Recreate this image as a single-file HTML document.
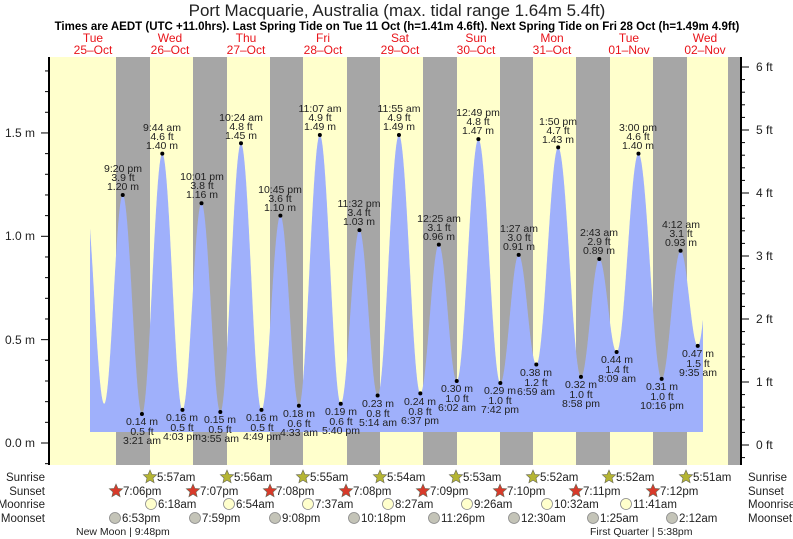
<!DOCTYPE html>
<html><head><meta charset="utf-8"><style>
html,body{margin:0;padding:0;background:#fff;}
svg{display:block;font-family:"Liberation Sans",sans-serif;}
.t{font-size:10.5px;fill:#222;text-anchor:middle;}
.ax{font-size:12px;fill:#222;}
.r{font-size:11.5px;fill:#222;}
.d{font-size:12px;fill:#e8141a;text-anchor:middle;}
</style></head><body>
<svg id="s" width="793" height="539" viewBox="0 0 793 539" xmlns="http://www.w3.org/2000/svg">
<rect x="49" y="57" width="692" height="408" fill="#ffffcc"/>
<g fill="#a6a6a6">
<rect x="116" y="57" width="34" height="408"/><rect x="193" y="57" width="34" height="408"/>
<rect x="270" y="57" width="33" height="408"/><rect x="347" y="57" width="33" height="408"/>
<rect x="423" y="57" width="34" height="408"/><rect x="500" y="57" width="33" height="408"/>
<rect x="576" y="57" width="34" height="408"/><rect x="653" y="57" width="34" height="408"/>
<rect x="728" y="57" width="13" height="408"/>
</g>
<path id="tide" fill="#9fb0fb" d=""/>
<g id="dots" fill="#000"></g>
<g id="ticks" stroke="#000" stroke-width="1"></g>
<line x1="49" y1="57" x2="49" y2="465" stroke="#000" stroke-width="2"/>
<line x1="741" y1="57" x2="741" y2="465" stroke="#000" stroke-width="2"/>
<text x="397" y="16" font-size="17" text-anchor="middle" fill="#222">Port Macquarie, Australia (max. tidal range 1.64m 5.4ft)</text>
<text x="397" y="30" font-size="11.5" font-weight="bold" text-anchor="middle" fill="#000">Times are AEDT (UTC +11.0hrs). Last Spring Tide on Tue 11 Oct (h=1.41m 4.6ft). Next Spring Tide on Fri 28 Oct (h=1.49m 4.9ft)</text>
<g class="d">
<text x="93" y="42">Tue</text><text x="93" y="54">25–Oct</text>
<text x="170" y="42">Wed</text><text x="170" y="54">26–Oct</text>
<text x="246" y="42">Thu</text><text x="246" y="54">27–Oct</text>
<text x="323" y="42">Fri</text><text x="323" y="54">28–Oct</text>
<text x="400" y="42">Sat</text><text x="400" y="54">29–Oct</text>
<text x="476" y="42">Sun</text><text x="476" y="54">30–Oct</text>
<text x="552" y="42">Mon</text><text x="552" y="54">31–Oct</text>
<text x="629" y="42">Tue</text><text x="629" y="54">01–Nov</text>
<text x="705" y="42">Wed</text><text x="705" y="54">02–Nov</text>
</g>
<g class="ax" text-anchor="end">
<text x="35" y="447">0.0 m</text><text x="35" y="344">0.5 m</text>
<text x="35" y="240">1.0 m</text><text x="35" y="137">1.5 m</text>
</g>
<g class="ax">
<text x="756" y="449">0 ft</text><text x="756" y="386">1 ft</text><text x="756" y="323">2 ft</text>
<text x="756" y="260">3 ft</text><text x="756" y="197">4 ft</text><text x="756" y="134">5 ft</text><text x="756" y="71">6 ft</text>
</g>
<g class="t">
<text x="123" y="172">9:20 pm</text><text x="123" y="181">3.9 ft</text><text x="123" y="190">1.20 m</text>
<text x="142" y="425">0.14 m</text><text x="142" y="435">0.5 ft</text><text x="142" y="444">3:21 am</text>
<text x="162" y="131">9:44 am</text><text x="162" y="140">4.6 ft</text><text x="162" y="149">1.40 m</text>
<text x="182" y="421">0.16 m</text><text x="182" y="431">0.5 ft</text><text x="182" y="440">4:03 pm</text>
<text x="202" y="180">10:01 pm</text><text x="202" y="189">3.8 ft</text><text x="202" y="198">1.16 m</text>
<text x="220" y="423">0.15 m</text><text x="220" y="433">0.5 ft</text><text x="220" y="442">3:55 am</text>
<text x="241" y="121">10:24 am</text><text x="241" y="130">4.8 ft</text><text x="241" y="139">1.45 m</text>
<text x="262" y="421">0.16 m</text><text x="262" y="431">0.5 ft</text><text x="262" y="440">4:49 pm</text>
<text x="280" y="193">10:45 pm</text><text x="280" y="202">3.6 ft</text><text x="280" y="211">1.10 m</text>
<text x="299" y="417">0.18 m</text><text x="299" y="427">0.6 ft</text><text x="299" y="436">4:33 am</text>
<text x="320" y="112">11:07 am</text><text x="320" y="121">4.9 ft</text><text x="320" y="130">1.49 m</text>
<text x="341" y="415">0.19 m</text><text x="341" y="425">0.6 ft</text><text x="341" y="434">5:40 pm</text>
<text x="359" y="207">11:32 pm</text><text x="359" y="216">3.4 ft</text><text x="359" y="225">1.03 m</text>
<text x="378" y="407">0.23 m</text><text x="378" y="417">0.8 ft</text><text x="378" y="426">5:14 am</text>
<text x="399" y="112">11:55 am</text><text x="399" y="121">4.9 ft</text><text x="399" y="130">1.49 m</text>
<text x="420" y="405">0.24 m</text><text x="420" y="415">0.8 ft</text><text x="420" y="424">6:37 pm</text>
<text x="439" y="222">12:25 am</text><text x="439" y="231">3.1 ft</text><text x="439" y="240">0.96 m</text>
<text x="457" y="392">0.30 m</text><text x="457" y="402">1.0 ft</text><text x="457" y="411">6:02 am</text>
<text x="478" y="116">12:49 pm</text><text x="478" y="125">4.8 ft</text><text x="478" y="134">1.47 m</text>
<text x="500" y="394">0.29 m</text><text x="500" y="404">1.0 ft</text><text x="500" y="413">7:42 pm</text>
<text x="519" y="232">1:27 am</text><text x="519" y="241">3.0 ft</text><text x="519" y="250">0.91 m</text>
<text x="536" y="376">0.38 m</text><text x="536" y="386">1.2 ft</text><text x="536" y="395">6:59 am</text>
<text x="558" y="125">1:50 pm</text><text x="558" y="134">4.7 ft</text><text x="558" y="143">1.43 m</text>
<text x="581" y="388">0.32 m</text><text x="581" y="398">1.0 ft</text><text x="581" y="407">8:58 pm</text>
<text x="599" y="236">2:43 am</text><text x="599" y="245">2.9 ft</text><text x="599" y="254">0.89 m</text>
<text x="617" y="363">0.44 m</text><text x="617" y="373">1.4 ft</text><text x="617" y="382">8:09 am</text>
<text x="638" y="131">3:00 pm</text><text x="638" y="140">4.6 ft</text><text x="638" y="149">1.40 m</text>
<text x="662" y="390">0.31 m</text><text x="662" y="400">1.0 ft</text><text x="662" y="409">10:16 pm</text>
<text x="681" y="228">4:12 am</text><text x="681" y="237">3.1 ft</text><text x="681" y="246">0.93 m</text>
<text x="698" y="357">0.47 m</text><text x="698" y="367">1.5 ft</text><text x="698" y="376">9:35 am</text>
</g>
<g class="r" text-anchor="end">
<text x="45" y="481">Sunrise</text><text x="45" y="495">Sunset</text>
<text x="45" y="508">Moonrise</text><text x="45" y="522">Moonset</text>
</g>
<g class="r">
<text x="748" y="481">Sunrise</text><text x="748" y="495">Sunset</text>
<text x="748" y="508">Moonrise</text><text x="748" y="522">Moonset</text>
</g>
<g id="astro"></g>
<g class="r" font-size="11">
<text x="157" y="481">5:57am</text><text x="234" y="481">5:56am</text><text x="310" y="481">5:55am</text><text x="387" y="481">5:54am</text>
<text x="463" y="481">5:53am</text><text x="540" y="481">5:52am</text><text x="616" y="481">5:52am</text><text x="693" y="481">5:51am</text>
<text x="123" y="495">7:06pm</text><text x="200" y="495">7:07pm</text><text x="276" y="495">7:08pm</text><text x="353" y="495">7:08pm</text>
<text x="430" y="495">7:09pm</text><text x="507" y="495">7:10pm</text><text x="583" y="495">7:11pm</text><text x="660" y="495">7:12pm</text>
<text x="158" y="508">6:18am</text><text x="236" y="508">6:54am</text><text x="315" y="508">7:37am</text><text x="395" y="508">8:27am</text>
<text x="474" y="508">9:26am</text><text x="554" y="508">10:32am</text><text x="633" y="508">11:41am</text>
<text x="122" y="522">6:53pm</text><text x="202" y="522">7:59pm</text><text x="282" y="522">9:08pm</text><text x="361" y="522">10:18pm</text>
<text x="441" y="522">11:26pm</text><text x="521" y="522">12:30am</text><text x="600" y="522">1:25am</text><text x="679" y="522">2:12am</text>
</g>
<text x="76" y="535" font-size="10.5" fill="#222">New Moon | 9:48pm</text>
<text x="590" y="535" font-size="10.5" fill="#222">First Quarter | 5:38pm</text>
</svg>
<script>
var ns="http://www.w3.org/2000/svg";
function X(t){return 54.7+3.19*t;}function Y(h){return 443-206.7*h;}
var E=[[9.2,1.25],[15.5,0.19],[21.33,1.20],[27.35,0.14],[33.73,1.40],[40.05,0.16],[46.02,1.16],[51.92,0.15],[58.4,1.45],[64.82,0.16],[70.75,1.10],[76.55,0.18],[83.12,1.49],[89.67,0.19],[95.53,1.03],[101.23,0.23],[107.92,1.49],[114.62,0.24],[120.42,0.96],[126.03,0.30],[132.82,1.47],[139.7,0.29],[145.45,0.91],[150.98,0.38],[157.83,1.43],[164.97,0.32],[170.72,0.89],[176.15,0.44],[183,1.40],[190.27,0.31],[196.2,0.93],[201.58,0.47],[208,1.3]];
function H(t){for(var i=0;i<E.length-1;i++){var a=E[i],b=E[i+1];if(t>=a[0]&&t<=b[0]){var f=(t-a[0])/(b[0]-a[0]);return a[1]+(b[1]-a[1])*(1-Math.cos(Math.PI*f))/2;}}return 0;}
var t0=(90-54.7)/3.19,t1=(703-54.7)/3.19,d="M90,432";
for(var t=t0;t<=t1;t+=0.05){d+="L"+X(t).toFixed(1)+","+Y(H(t)).toFixed(1);}
d+="L703,432Z";document.getElementById("tide").setAttribute("d",d);
var g=document.getElementById("dots");
for(var i=2;i<E.length-1;i++){var c=document.createElementNS(ns,"circle");c.setAttribute("cx",X(E[i][0]));c.setAttribute("cy",Y(E[i][1]));c.setAttribute("r",2);g.appendChild(c);}
var tk=document.getElementById("ticks");
function L(x1,y1,x2,y2){var l=document.createElementNS(ns,"line");l.setAttribute("x1",x1);l.setAttribute("y1",y1);l.setAttribute("x2",x2);l.setAttribute("y2",y2);tk.appendChild(l);}
for(var k=-1;k<=19;k++){var y=Y(k/10);if(y<57||y>465)continue;L(k%5==0?41:45,y,49,y);}
for(var k=-1;k<=32;k++){var y=445-63*k/5;if(y<57||y>465)continue;L(741,y,k%5==0?749:745,y);}
var A=document.getElementById("astro");
function star(cx,cy,fill){var p="";for(var i=0;i<10;i++){var r=i%2?3.2:7,a=-Math.PI/2+i*Math.PI/5;p+=(cx+r*Math.cos(a)).toFixed(1)+","+(cy+r*Math.sin(a)).toFixed(1)+" ";}var s=document.createElementNS(ns,"polygon");s.setAttribute("points",p);s.setAttribute("fill",fill);s.setAttribute("stroke","#665");s.setAttribute("stroke-width","0.6");A.appendChild(s);}
function circ(cx,cy,fill){var c=document.createElementNS(ns,"circle");c.setAttribute("cx",cx);c.setAttribute("cy",cy);c.setAttribute("r",5.5);c.setAttribute("fill",fill);c.setAttribute("stroke","#888");c.setAttribute("stroke-width","0.8");A.appendChild(c);}
[150,227,303,380,456,533,609,686].forEach(function(x){star(x,477,"#b5b534");});
[116,193,270,346,423,500,576,653].forEach(function(x){star(x,491,"#d83a2a");});
[151,229,308,388,467,547,626].forEach(function(x){circ(x,504,"#ffffcc");});
[115,195,275,354,434,514,593,672].forEach(function(x){circ(x,518,"#c4c4b8");});
</script>
</body></html>
